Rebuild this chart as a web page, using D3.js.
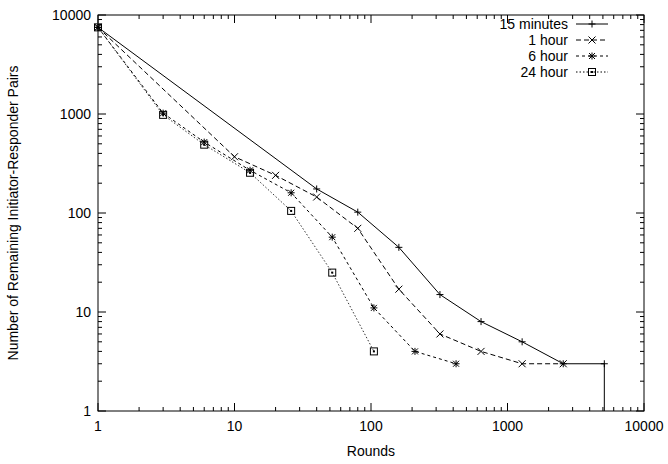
<!DOCTYPE html><html><head><script src="https://cdn.jsdelivr.net/npm/d3@7"></script>
<style>body{margin:0;background:#fff}text{font-family:"Liberation Sans",Arial,sans-serif;font-size:14px}</style></head><body>
<svg id="c" width="668" height="464"></svg>
<script>
const names=["15 minutes","1 hour","6 hour","24 hour"];
const s15=[[1,7500],[40,175],[80,102],[160,45],[320,15],[640,8],[1280,5],[2560,3],[5120,3]];
const s1h=[[1,7500],[10,370],[20,240],[40,145],[80,70],[160,17],[320,6],[640,4],[1280,3],[2560,3]];
const s6h=[[1,7500],[3,1020],[6,520],[13,270],[26,160],[52,57],[105,11],[210,4],[420,3]];
const s24h=[[1,7500],[3,980],[6,490],[13,255],[26,105],[52,25],[105,4]];
const ticks=[1,10,100,1000,10000];
const series=[s15,s1h,s6h,s24h];
const dashes=[null,"5,3","3,3","1.5,2"];
const svg=d3.select("#c");
const L=98,R=644,T=15,B=411;
const x=d3.scaleLog().domain([1,10000]).range([L,R]);
const y=d3.scaleLog().domain([1,10000]).range([B,T]);
const minor=[];for(let d=1;d<10000;d*=10)for(let k=2;k<=9;k++)minor.push(d*k);
const g=svg.append("g");
ticks.forEach(t=>{
 g.append("line").attr("x1",x(t)).attr("x2",x(t)).attr("y1",B).attr("y2",B-8).attr("stroke","#000");
 g.append("line").attr("x1",x(t)).attr("x2",x(t)).attr("y1",T).attr("y2",T+8).attr("stroke","#000");
 g.append("line").attr("y1",y(t)).attr("y2",y(t)).attr("x1",L).attr("x2",L+8).attr("stroke","#000");
 g.append("line").attr("y1",y(t)).attr("y2",y(t)).attr("x1",R).attr("x2",R-8).attr("stroke","#000");
 g.append("text").attr("x",x(t)).attr("y",B+20).attr("text-anchor","middle").text(t);
 g.append("text").attr("x",L-7).attr("y",y(t)+5).attr("text-anchor","end").text(t);
});
minor.forEach(t=>{
 g.append("line").attr("x1",x(t)).attr("x2",x(t)).attr("y1",B).attr("y2",B-4).attr("stroke","#000");
 g.append("line").attr("x1",x(t)).attr("x2",x(t)).attr("y1",T).attr("y2",T+4).attr("stroke","#000");
 g.append("line").attr("y1",y(t)).attr("y2",y(t)).attr("x1",L).attr("x2",L+4).attr("stroke","#000");
 g.append("line").attr("y1",y(t)).attr("y2",y(t)).attr("x1",R).attr("x2",R-4).attr("stroke","#000");
});
g.append("rect").attr("x",L).attr("y",T).attr("width",R-L).attr("height",B-T).attr("fill","none").attr("stroke","#000");
g.append("text").attr("x",(L+R)/2).attr("y",456).attr("text-anchor","middle").text("Rounds");
g.append("text").attr("transform",`translate(18,${(T+B)/2}) rotate(-90)`).attr("text-anchor","middle").text("Number of Remaining Initiator-Responder Pairs");
const line=d3.line().x(d=>x(d[0])).y(d=>y(d[1]));
function marker(sel,i,cx,cy){
 const p=sel.append("g").attr("stroke","#000").attr("fill","none").attr("stroke-width",1);
 if(i===0){p.append("path").attr("d",`M${cx-3.5},${cy}h7M${cx},${cy-3.5}v7`);}
 else if(i===1){p.append("path").attr("d",`M${cx-3.5},${cy-3.5}l7,7M${cx-3.5},${cy+3.5}l7,-7`);}
 else if(i===2){p.append("path").attr("d",`M${cx-3.5},${cy}h7M${cx},${cy-3.5}v7M${cx-3},${cy-3}l6,6M${cx-3},${cy+3}l6,-6`);}
 else {p.append("rect").attr("x",cx-3.5).attr("y",cy-3.5).attr("width",7).attr("height",7);p.append("rect").attr("x",cx-0.5).attr("y",cy-0.5).attr("width",1).attr("height",1).attr("fill","#000");}
}
series.forEach((s,i)=>{
 g.append("path").attr("d",line(s)).attr("fill","none").attr("stroke",i==3?"#333":"#000").attr("stroke-width",1).attr("stroke-dasharray",dashes[i]);
 s.forEach(d=>marker(g,i,x(d[0]),y(d[1])));
});
const last=s15[s15.length-1];
g.append("line").attr("x1",x(last[0])).attr("x2",x(last[0])).attr("y1",y(last[1])).attr("y2",B).attr("stroke","#000");
names.forEach((n,i)=>{
 const ly=24+i*16;
 g.append("text").attr("x",568).attr("y",ly+5).attr("text-anchor","end").text(n);
 g.append("line").attr("x1",576).attr("x2",608).attr("y1",ly).attr("y2",ly).attr("stroke","#000").attr("stroke-dasharray",dashes[i]);
 marker(g,i,592,ly);
});
</script></body></html>
